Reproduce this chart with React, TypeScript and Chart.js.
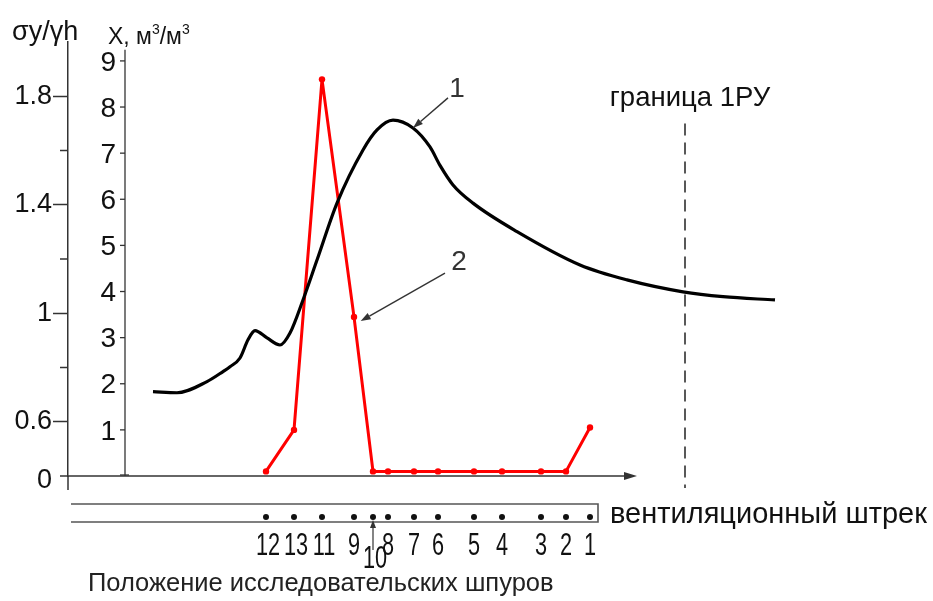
import React, { useEffect, useRef } from 'react';
import { Chart, registerables } from 'chart.js';

Chart.register(...registerables);

// ---- data ----
const shpurLabels = ['12', '13', '11', '9', '10', '8', '7', '6', '5', '4', '3', '2', '1'];
const shpurPos = [19.8, 22.6, 25.4, 28.6, 30.5, 32.0, 34.6, 37.0, 40.6, 43.4, 47.3, 49.8, 52.2];
const gasContent = [0.1, 1.0, 8.6, 3.45, 0.1, 0.1, 0.1, 0.1, 0.1, 0.1, 0.1, 0.1, 1.05];

const stressX = [8.5, 10.9, 13.9, 15.5, 16.2, 17.2, 18.0, 18.7, 19.9, 21.2, 22.2, 23.5, 24.9, 26.9, 29.5, 30.9, 32.5, 34.5, 36.2, 37.2, 38.5, 40.5, 44.9, 51.2, 55.9, 61.5, 65.5, 70.7];
const stressY = [0.711, 0.707, 0.748, 0.785, 0.803, 0.835, 0.902, 0.936, 0.909, 0.883, 0.927, 1.049, 1.196, 1.406, 1.602, 1.676, 1.712, 1.683, 1.613, 1.545, 1.473, 1.406, 1.301, 1.178, 1.123, 1.079, 1.061, 1.049];

const sigmaMajor = [0.6, 1, 1.4, 1.8];
const sigmaMinor = [0.8, 1.2, 1.6];
const sigmaZero = 0.4; // broken axis origin, labelled "0"
const gasTicks = [1, 2, 3, 4, 5, 6, 7, 8, 9];

const gasAxisX = 5.7;
const axisEndX = 56.9;
const boundaryX = 61.7;
const driftStartX = 0.3;
const driftEndX = 53.0;

const FONT = "'Liberation Sans', Arial, sans-serif";

function arrow(ctx: CanvasRenderingContext2D, x1: number, y1: number, x2: number, y2: number, head = 10, half = 3.5) {
  const a = Math.atan2(y2 - y1, x2 - x1);
  const bx = x2 - head * Math.cos(a);
  const by = y2 - head * Math.sin(a);
  ctx.beginPath();
  ctx.moveTo(x1, y1);
  ctx.lineTo(bx, by);
  ctx.stroke();
  ctx.beginPath();
  ctx.moveTo(x2, y2);
  ctx.lineTo(bx + half * Math.sin(a), by - half * Math.cos(a));
  ctx.lineTo(bx - half * Math.sin(a), by + half * Math.cos(a));
  ctx.closePath();
  ctx.fill();
}

const r1 = (v: number) => Math.round(v * 10) / 10;

const customPlugin = {
  id: 'customDraw',
  beforeDatasetsDraw(chart: any) {
    const ctx: CanvasRenderingContext2D = chart.ctx;
    const x = chart.scales.x;
    const y = chart.scales.y;
    const y2 = chart.scales.y2;
    const area = chart.chartArea;
    const y0 = y.getPixelForValue(sigmaZero);
    const left = area.left;
    ctx.save();
    ctx.strokeStyle = '#333';
    ctx.fillStyle = '#333';
    ctx.lineWidth = 1.5;
    // sigma axis extension below origin
    ctx.beginPath();
    ctx.moveTo(left, y0);
    ctx.lineTo(left, y0 + 14);
    ctx.stroke();
    // minor ticks
    sigmaMinor.forEach((v) => {
      const py = y.getPixelForValue(v);
      ctx.beginPath();
      ctx.moveTo(left - 8, py);
      ctx.lineTo(left, py);
      ctx.stroke();
    });
    // "0" label of the broken axis
    ctx.fillStyle = '#111';
    ctx.font = `27px ${FONT}`;
    ctx.textAlign = 'right';
    ctx.textBaseline = 'middle';
    ctx.fillText('0', left - 16, y0 + 5);
    ctx.fillStyle = '#333';
    // horizontal axis with arrow
    const xEnd = x.getPixelForValue(axisEndX);
    ctx.lineWidth = 1.5;
    arrow(ctx, left - 8, y0, xEnd, y0, 13, 4);

    // inner gas axis
    const gx = x.getPixelForValue(gasAxisX);
    const gTop = y2.getPixelForValue(9.24);
    const gBot = y2.getPixelForValue(0);
    ctx.lineWidth = 1.3;
    ctx.beginPath();
    ctx.moveTo(gx, gTop);
    ctx.lineTo(gx, gBot);
    ctx.stroke();
    ctx.beginPath();
    ctx.moveTo(gx - 5, gBot - 1);
    ctx.lineTo(gx + 4, gBot - 1);
    ctx.stroke();
    ctx.fillStyle = '#111';
    ctx.font = `28px ${FONT}`;
    ctx.textAlign = 'right';
    ctx.textBaseline = 'middle';
    gasTicks.forEach((v) => {
      const py = y2.getPixelForValue(v);
      ctx.beginPath();
      ctx.moveTo(gx - 5, py);
      ctx.lineTo(gx, py);
      ctx.stroke();
      ctx.fillText(String(v), gx - 9, py + 2);
    });

    // boundary dashed line
    const bx = x.getPixelForValue(boundaryX);
    ctx.strokeStyle = '#222';
    ctx.lineWidth = 1.5;
    ctx.setLineDash([12, 7]);
    ctx.beginPath();
    ctx.moveTo(bx, y.getPixelForValue(1.70));
    ctx.lineTo(bx, y0 + 12);
    ctx.stroke();
    ctx.setLineDash([]);
    ctx.restore();
  },
  afterDatasetsDraw(chart: any) {
    const ctx: CanvasRenderingContext2D = chart.ctx;
    const x = chart.scales.x;
    const y = chart.scales.y;
    const y2 = chart.scales.y2;
    const y0 = y.getPixelForValue(sigmaZero);
    ctx.save();
    ctx.fillStyle = '#111';
    ctx.textBaseline = 'alphabetic';

    // axis titles
    ctx.textAlign = 'left';
    ctx.font = `27px ${FONT}`;
    ctx.fillText('σy/γh', 12, 40);
    let tx = 108;
    const parts: [string, boolean][] = [['X, м', false], ['3', true], ['/м', false], ['3', true]];
    parts.forEach(([s, sup]) => {
      ctx.font = sup ? `14px ${FONT}` : `23px ${FONT}`;
      ctx.fillText(s, tx, sup ? 34 : 44);
      tx += ctx.measureText(s).width;
    });

    // boundary label
    ctx.font = `27.5px ${FONT}`;
    ctx.textAlign = 'center';
    ctx.fillText('граница 1РУ', x.getPixelForValue(boundaryX) + 5, 106);

    // curve annotations
    ctx.strokeStyle = '#333';
    ctx.fillStyle = '#333';
    ctx.lineWidth = 1.4;
    ctx.font = `28px ${FONT}`;
    ctx.textAlign = 'center';
    ctx.textBaseline = 'middle';
    ctx.fillText('1', x.getPixelForValue(38.9), y.getPixelForValue(1.827));
    arrow(ctx, x.getPixelForValue(38.0), y.getPixelForValue(1.794), x.getPixelForValue(34.5), y.getPixelForValue(1.683), 10, 3.5);
    ctx.fillText('2', x.getPixelForValue(39.1), y2.getPixelForValue(4.64));
    arrow(ctx, x.getPixelForValue(37.7), y2.getPixelForValue(4.40), x.getPixelForValue(29.27), y2.getPixelForValue(3.36), 10, 3.5);

    // ventilation drift
    const dL = x.getPixelForValue(driftStartX);
    const dR = x.getPixelForValue(driftEndX);
    const dTop = y0 + 28;
    const dBot = y0 + 46;
    ctx.strokeStyle = '#555';
    ctx.lineWidth = 1.6;
    ctx.beginPath();
    ctx.moveTo(dL, dTop);
    ctx.lineTo(dR, dTop);
    ctx.lineTo(dR, dBot);
    ctx.lineTo(dL, dBot);
    ctx.stroke();

    ctx.fillStyle = '#111';
    ctx.textBaseline = 'alphabetic';
    ctx.textAlign = 'left';
    ctx.font = `29px ${FONT}`;
    ctx.fillText('вентиляционный штрек', dR + 12, y0 + 47);

    // shpur dots + labels
    shpurPos.forEach((p, i) => {
      const px = x.getPixelForValue(p);
      ctx.beginPath();
      ctx.arc(px, y0 + 41, 3, 0, Math.PI * 2);
      ctx.fill();
      const lab = shpurLabels[i];
      const base = lab === '10' ? y0 + 92 : y0 + 79;
      ctx.save();
      ctx.translate(px + (lab.length > 1 ? 2 : 0), base);
      ctx.scale(0.7, 1);
      ctx.font = `31px ${FONT}`;
      ctx.textAlign = 'center';
      ctx.fillText(lab, 0, 0);
      ctx.restore();
      if (lab === '10') {
        ctx.strokeStyle = '#333';
        ctx.fillStyle = '#333';
        ctx.lineWidth = 1.2;
        arrow(ctx, px, y0 + 74, px, y0 + 44, 8, 3);
        ctx.fillStyle = '#111';
      }
    });

    // bottom title
    ctx.fillStyle = '#222';
    ctx.font = `25.5px ${FONT}`;
    ctx.textAlign = 'left';
    ctx.fillText('Положение исследовательских шпуров', 88, 591);
    ctx.restore();
  },
};

export default function App() {
  const ref = useRef<HTMLCanvasElement | null>(null);
  useEffect(() => {
    if (!ref.current) return;
    const chart = new Chart(ref.current, {
      type: 'line',
      data: {
        datasets: [
          {
            label: '1',
            data: stressX.map((v, i) => ({ x: v, y: stressY[i] })),
            yAxisID: 'y',
            borderColor: '#000',
            borderWidth: 3.2,
            pointRadius: 0,
            cubicInterpolationMode: 'monotone',
            borderJoinStyle: 'round',
            fill: false,
          },
          {
            label: '2',
            data: shpurPos.map((v, i) => ({ x: v, y: gasContent[i] })),
            yAxisID: 'y2',
            borderColor: '#ff0000',
            backgroundColor: '#ff0000',
            borderWidth: 3,
            borderJoinStyle: 'round',
            pointRadius: 3.2,
            pointBackgroundColor: '#ff0000',
            pointBorderWidth: 0,
            tension: 0,
            fill: false,
          },
        ],
      },
      options: {
        animation: false,
        responsive: false,
        events: [],
        layout: { padding: { left: 0, top: 42, right: 145, bottom: 125 } },
        plugins: { legend: { display: false }, tooltip: { enabled: false } },
        scales: {
          x: { type: 'linear', min: 0, max: 72, display: false },
          y: {
            type: 'linear',
            position: 'left',
            min: 0.4,
            max: 2.0,
            afterFit: (s: any) => { s.width = 68; },
            ticks: {
              stepSize: 0.2,
              padding: 1,
              color: '#111',
              font: { family: FONT, size: 27 },
              callback: (v: any) => {
                const r = r1(Number(v));
                if (sigmaMajor.includes(r)) return String(r);
                return '';
              },
            },
            grid: {
              drawOnChartArea: false,
              drawTicks: true,
              tickLength: 15,
              tickWidth: 1.5,
              tickColor: (c: any) => (c.tick && sigmaMajor.includes(r1(c.tick.value)) ? '#333' : 'rgba(0,0,0,0)'),
            },
            border: { display: true, color: '#333', width: 1.5 },
          },
          y2: { type: 'linear', min: 0, max: 9.41, display: false },
        },
      },
      plugins: [customPlugin],
    } as any);
    return () => chart.destroy();
  }, []);
  return (
    <div style={{ position: 'absolute', left: 0, top: 0, width: 933, height: 601, background: '#fff' }}>
      <canvas ref={ref} width={933} height={601} style={{ display: 'block' }} />
    </div>
  );
}
